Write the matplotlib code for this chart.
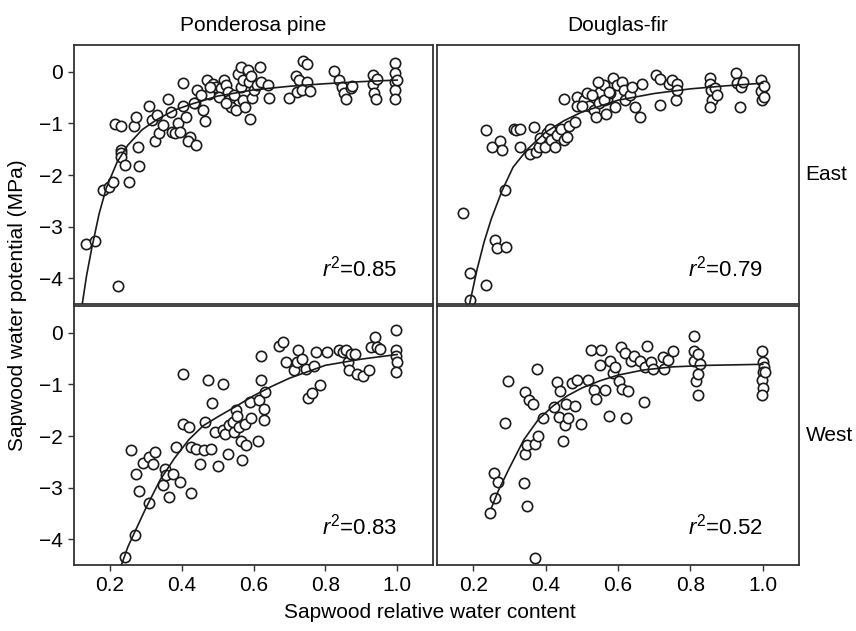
import matplotlib
matplotlib.use("Agg")
import matplotlib.pyplot as plt

plt.rcParams["font.family"] = ["Liberation Sans", "DejaVu Sans"]
plt.rcParams["mathtext.fontset"] = "custom"
plt.rcParams["mathtext.rm"] = "Liberation Sans"
plt.rcParams["mathtext.it"] = "Liberation Sans:italic"

# ---- Ponderosa pine, East ----
pp_east_x = [0.133, 0.158, 0.223, 0.180, 0.198, 0.209, 0.214, 0.230, 0.231, 0.231,
             0.231, 0.243, 0.254, 0.281, 0.279, 0.267, 0.272, 0.309, 0.316, 0.330,
             0.327, 0.337, 0.348, 0.362, 0.369, 0.374, 0.380, 0.390, 0.394, 0.405,
             0.405, 0.413, 0.422, 0.417, 0.440, 0.436, 0.443, 0.459, 0.466, 0.471,
             0.476, 0.487, 0.496, 0.510, 0.519, 0.524, 0.528, 0.533, 0.538, 0.547,
             0.552, 0.556, 0.564, 0.565, 0.572, 0.570, 0.577, 0.584, 0.588, 0.593,
             0.596, 0.590, 0.602, 0.611, 0.619, 0.621, 0.639, 0.642, 0.700, 0.718,
             0.722, 0.727, 0.738, 0.750, 0.750, 0.736, 0.757, 0.824, 0.838, 0.846,
             0.852, 0.858, 0.871, 0.875, 0.933, 0.933, 0.936, 0.940, 0.945, 0.995,
             0.995, 0.995, 0.995, 0.995, 1.000, 0.505, 0.524, 0.433, 0.480, 0.455]
pp_east_y = [-3.34, -3.27, -4.16, -2.30, -2.23, -2.13, -1.01, -1.05, -1.52, -1.58,
             -1.65, -1.80, -2.13, -1.82, -1.45, -1.05, -0.88, -0.66, -0.94, -0.84,
             -1.35, -1.19, -1.03, -0.52, -0.77, -1.16, -1.19, -1.00, -1.16, -0.21,
             -0.66, -0.87, -1.26, -1.35, -1.42, -0.61, -0.35, -0.74, -0.95, -0.15,
             -0.43, -0.23, -0.30, -0.32, -0.16, -0.26, -0.39, -0.55, -0.68, -0.45,
             -0.74, -0.05, 0.10, -0.30, -0.16, -0.55, -0.68, 0.03, -0.19, -0.08,
             -0.50, -0.92, -0.35, -0.26, 0.10, -0.19, -0.26, -0.50, -0.50, -0.08,
             -0.39, -0.16, 0.21, 0.16, -0.19, -0.35, -0.37, 0.02, -0.16, -0.30,
             -0.42, -0.52, -0.32, -0.28, -0.06, -0.23, -0.41, -0.52, -0.13, 0.17,
             -0.02, -0.19, -0.35, -0.52, -0.16, -0.48, -0.61, -0.61, -0.30, -0.45]
pp_east_fit_x = [0.123, 0.135, 0.15, 0.17, 0.19, 0.22, 0.25, 0.29, 0.33, 0.38,
                 0.43, 0.50, 0.60, 0.70, 0.80, 0.90, 1.00]
pp_east_fit_y = [-4.5, -3.95, -3.4, -2.75, -2.25, -1.75, -1.42, -1.12, -0.93, -0.74,
                 -0.62, -0.47, -0.35, -0.28, -0.23, -0.19, -0.16]

# ---- Douglas-fir, East ----
df_east_x = [0.171, 0.190, 0.190, 0.236, 0.259, 0.266, 0.291, 0.289, 0.236, 0.252,
             0.273, 0.279, 0.312, 0.319, 0.330, 0.330, 0.358, 0.369, 0.374, 0.381,
             0.385, 0.399, 0.404, 0.411, 0.416, 0.427, 0.431, 0.443, 0.450, 0.450,
             0.459, 0.464, 0.480, 0.487, 0.487, 0.505, 0.515, 0.519, 0.533, 0.538,
             0.547, 0.551, 0.562, 0.568, 0.569, 0.578, 0.587, 0.593, 0.598, 0.611,
             0.616, 0.620, 0.634, 0.638, 0.648, 0.662, 0.667, 0.706, 0.717, 0.716,
             0.741, 0.750, 0.762, 0.759, 0.763, 0.854, 0.855, 0.857, 0.860, 0.854,
             0.867, 0.873, 0.925, 0.928, 0.939, 0.946, 0.937, 0.996, 0.996, 0.999,
             1.004, 1.004, 0.500, 0.527, 0.545, 0.560, 0.575]
df_east_y = [-2.74, -3.89, -4.42, -4.13, -3.25, -3.42, -3.39, -2.29, -1.12, -1.45,
             -1.34, -1.52, -1.10, -1.12, -1.10, -1.45, -1.59, -1.06, -1.55, -1.45,
             -1.29, -1.45, -1.19, -1.10, -1.32, -1.45, -1.23, -1.10, -0.52, -1.32,
             -1.26, -1.05, -0.97, -0.48, -0.66, -0.55, -0.41, -0.66, -0.74, -0.87,
             -0.61, -0.39, -0.26, -0.81, -0.52, -0.42, -0.11, -0.68, -0.26, -0.19,
             -0.35, -0.55, -0.45, -0.29, -0.68, -0.87, -0.23, -0.06, -0.13, -0.65,
             -0.23, -0.16, -0.23, -0.55, -0.35, -0.11, -0.23, -0.35, -0.54, -0.69,
             -0.32, -0.45, -0.02, -0.21, -0.30, -0.19, -0.68, -0.15, -0.37, -0.55,
             -0.28, -0.48, -0.66, -0.45, -0.20, -0.55, -0.40]
df_east_fit_x = [0.19, 0.21, 0.23, 0.25, 0.28, 0.31, 0.35, 0.40, 0.45, 0.50,
                 0.60, 0.70, 0.80, 0.90, 1.00]
df_east_fit_y = [-4.5, -3.85, -3.3, -2.85, -2.3, -1.85, -1.5, -1.17, -0.95, -0.78,
                 -0.55, -0.42, -0.33, -0.27, -0.22]

# ---- Ponderosa pine, West ----
pp_west_x = [0.242, 0.269, 0.309, 0.281, 0.274, 0.260, 0.291, 0.309, 0.320, 0.325,
             0.348, 0.353, 0.357, 0.366, 0.376, 0.385, 0.396, 0.405, 0.405, 0.420,
             0.427, 0.427, 0.441, 0.452, 0.461, 0.464, 0.473, 0.482, 0.485, 0.494,
             0.501, 0.515, 0.516, 0.528, 0.522, 0.533, 0.542, 0.550, 0.553, 0.547,
             0.561, 0.568, 0.565, 0.575, 0.579, 0.589, 0.593, 0.612, 0.616, 0.621,
             0.621, 0.630, 0.630, 0.632, 0.670, 0.683, 0.690, 0.713, 0.720, 0.725,
             0.736, 0.746, 0.753, 0.762, 0.769, 0.774, 0.785, 0.806, 0.838, 0.849,
             0.859, 0.864, 0.866, 0.871, 0.883, 0.889, 0.905, 0.922, 0.926, 0.938,
             0.945, 0.951, 0.997, 0.997, 0.997, 1.000, 0.997]
pp_west_y = [-4.34, -3.92, -3.29, -3.06, -2.73, -2.28, -2.52, -2.41, -2.55, -2.31,
             -2.94, -2.63, -2.76, -3.18, -2.74, -2.21, -2.89, -0.79, -1.77, -1.83,
             -3.10, -2.21, -2.25, -2.55, -2.28, -1.73, -0.92, -2.25, -1.36, -1.92,
             -2.59, -1.00, -1.88, -2.34, -1.97, -1.79, -1.73, -1.50, -1.62, -1.92,
             -1.83, -2.47, -2.10, -1.76, -2.17, -1.34, -1.66, -2.10, -1.31, -0.44,
             -0.92, -1.47, -1.68, -1.15, -0.26, -0.18, -0.57, -0.73, -0.57, -0.34,
             -0.50, -0.70, -1.26, -1.17, -0.65, -0.37, -1.02, -0.37, -0.34, -0.37,
             -0.34, -0.57, -0.73, -0.41, -0.42, -0.79, -0.83, -0.73, -0.28, -0.08,
             -0.28, -0.31, 0.06, -0.33, -0.44, -0.57, -0.75]
pp_west_fit_x = [0.232, 0.25, 0.27, 0.30, 0.34, 0.38, 0.42, 0.46, 0.50, 0.55,
                 0.60, 0.65, 0.70, 0.80, 0.90, 1.00]
pp_west_fit_y = [-4.5, -4.15, -3.85, -3.4, -2.85, -2.43, -2.07, -1.8, -1.63, -1.43,
                 -1.22, -1.04, -0.88, -0.63, -0.51, -0.42]

# ---- Douglas-fir, West ----
df_west_x = [0.246, 0.260, 0.258, 0.269, 0.295, 0.288, 0.341, 0.350, 0.371, 0.343,
             0.350, 0.371, 0.380, 0.342, 0.353, 0.365, 0.376, 0.394, 0.424, 0.436,
             0.431, 0.439, 0.448, 0.457, 0.454, 0.463, 0.473, 0.482, 0.487, 0.498,
             0.516, 0.526, 0.533, 0.540, 0.550, 0.553, 0.565, 0.574, 0.577, 0.587,
             0.593, 0.602, 0.608, 0.611, 0.621, 0.618, 0.627, 0.635, 0.644, 0.662,
             0.672, 0.675, 0.681, 0.690, 0.698, 0.725, 0.727, 0.738, 0.753, 0.809,
             0.809, 0.811, 0.815, 0.820, 0.822, 0.827, 0.820, 0.997, 1.000, 1.003,
             1.000, 0.997, 1.000, 0.997, 1.005]
df_west_y = [-3.49, -3.21, -2.72, -2.89, -0.94, -1.75, -2.91, -3.36, -4.36, -2.34,
             -2.18, -2.16, -1.99, -1.15, -1.30, -1.37, -0.71, -1.65, -1.43, -1.63,
             -0.95, -1.12, -2.10, -1.37, -1.79, -1.66, -0.97, -1.41, -0.91, -1.76,
             -0.92, -0.34, -1.10, -1.28, -0.63, -0.34, -1.10, -1.62, -0.55, -0.78,
             -0.66, -0.94, -0.28, -1.08, -1.65, -0.39, -1.12, -0.55, -0.44, -0.54,
             -1.34, -0.66, -0.25, -0.57, -0.70, -0.47, -0.70, -0.52, -0.36, -0.07,
             -0.36, -0.54, -0.94, -1.21, -0.41, -0.60, -0.79, -0.36, -0.57, -0.66,
             -0.76, -0.91, -1.07, -1.21, -0.76]
df_west_fit_x = [0.25, 0.27, 0.30, 0.34, 0.38, 0.42, 0.46, 0.50, 0.55, 0.60,
                 0.67, 0.75, 0.85, 1.00]
df_west_fit_y = [-3.4, -3.05, -2.62, -2.07, -1.68, -1.42, -1.22, -1.07, -0.93, -0.82,
                 -0.72, -0.66, -0.63, -0.61]

species = ["Ponderosa pine", "Douglas-fir"]
sites = ["East", "West"]
r2_labels = [["0.85", "0.79"], ["0.83", "0.52"]]

panels = [
    [(pp_east_x, pp_east_y, pp_east_fit_x, pp_east_fit_y),
     (df_east_x, df_east_y, df_east_fit_x, df_east_fit_y)],
    [(pp_west_x, pp_west_y, pp_west_fit_x, pp_west_fit_y),
     (df_west_x, df_west_y, df_west_fit_x, df_west_fit_y)],
]

W, H = 856, 631
fig = plt.figure(figsize=(W / 100, H / 100), dpi=100)

# panel boxes in pixels: (left, right) per column, (top, bottom) per row
cols = [(74, 433), (437, 799)]
rows = [(45, 304), (306, 565)]

fs = 15
frame_col = "#333333"
for i, (top, bot) in enumerate(rows):
    for j, (left, right) in enumerate(cols):
        ax = fig.add_axes([left / W, 1 - bot / H, (right - left) / W, (bot - top) / H])
        x, y, fx, fy = panels[i][j]
        ax.scatter(x, y, s=55, facecolors="white", edgecolors="#1a1a1a",
                   linewidths=1.2, zorder=2)
        ax.plot(fx, fy, color="#1a1a1a", lw=1.2, zorder=3)
        ax.set_xlim(0.1, 1.1)
        ax.set_ylim(-4.5, 0.52)
        ax.set_xticks([0.2, 0.4, 0.6, 0.8, 1.0])
        ax.set_yticks([0, -1, -2, -3, -4])
        ax.tick_params(direction="out", length=4, width=1, color=frame_col,
                       labelsize=fs, pad=4)
        if j > 0:
            ax.tick_params(axis="y", left=False, labelleft=False)
        if i == 0:
            ax.tick_params(axis="x", bottom=False, labelbottom=False)
        else:
            ax.set_xticklabels(["0.2", "0.4", "0.6", "0.8", "1.0"])
        for sp in ax.spines.values():
            sp.set_color(frame_col)
            sp.set_linewidth(1.3)
        ax.text(1.0, -3.82 if i == 0 else -3.76,
                r"$r^2$" + "=" + r2_labels[i][j],
                ha="right", va="center", fontsize=16)
        if i == 0:
            ax.set_title(species[j], fontsize=fs, pad=10)
        if j == 1:
            ax.text(1.018, 0.5, sites[i], transform=ax.transAxes,
                    ha="left", va="center", fontsize=fs)

fig.text(18 / W, 1 - 305 / H, "Sapwood water potential (MPa)", rotation=90,
         ha="center", va="center", fontsize=fs)
fig.text(430 / W, 1 - 612 / H, "Sapwood relative water content",
         ha="center", va="center", fontsize=fs)

fig.savefig("out.png", dpi=100)
